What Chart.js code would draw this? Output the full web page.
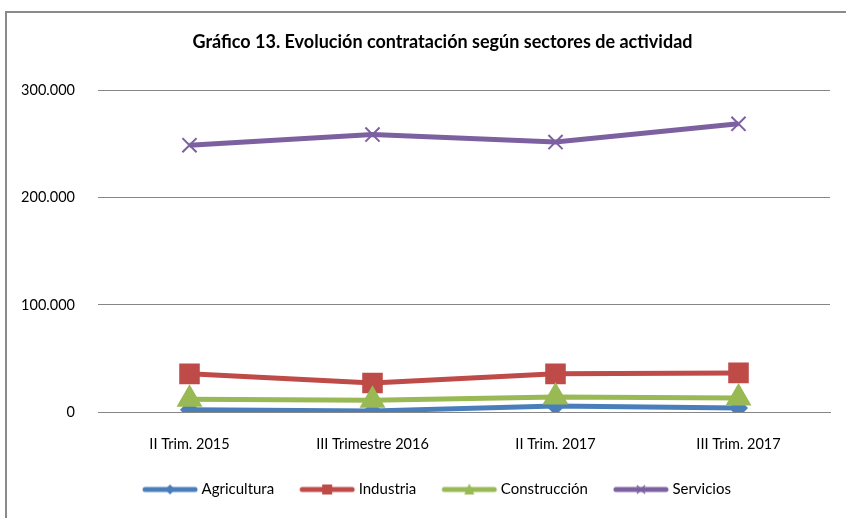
<!DOCTYPE html>
<html>
<head>
<meta charset="utf-8">
<script src="https://cdn.jsdelivr.net/npm/chart.js@4/dist/chart.umd.min.js"></script>
<style>
  html, body { margin: 0; padding: 0; background: #fff; overflow: hidden; }
  #wrap { width: 846px; height: 518px; position: relative; }
</style>
</head>
<body>
<div id="wrap"><canvas id="lineChart" width="846" height="518"></canvas></div>
<script>
// datos
var categories = ['II Trim. 2015', 'III Trimestre 2016', 'II Trim. 2017', 'III Trim. 2017'];
var agricultura = [2000, 1000, 5600, 3700];
var industria = [35600, 27000, 35600, 36500];
var construccion = [12000, 11000, 14000, 13000];
var servicios = [249000, 259000, 252000, 269000];
var yTicks = [0, 100000, 200000, 300000];

var FONT = 'Lato, "Open Sans", sans-serif';

// icono de leyenda: linea + marcador
function legendIcon(color, shape) {
  var c = document.createElement('canvas');
  c.width = 58; c.height = 14;
  var g = c.getContext('2d');
  g.strokeStyle = color; g.fillStyle = color;
  g.lineWidth = 5; g.lineCap = 'round';
  g.beginPath(); g.moveTo(4, 7); g.lineTo(54, 7); g.stroke();
  var cx = 29, cy = 7;
  g.beginPath();
  if (shape == 'diamond') {
    g.moveTo(cx, cy - 5); g.lineTo(cx + 5, cy); g.lineTo(cx, cy + 5); g.lineTo(cx - 5, cy); g.closePath(); g.fill();
  } else if (shape == 'square') {
    g.rect(cx - 5, cy - 5, 10, 10); g.fill();
  } else if (shape == 'triangle') {
    g.moveTo(cx, cy - 6); g.lineTo(cx + 5, cy + 5); g.lineTo(cx - 5, cy + 5); g.closePath(); g.fill();
  } else {
    g.lineWidth = 1.5; g.lineCap = 'butt';
    g.moveTo(cx - 4, cy - 4); g.lineTo(cx + 4, cy + 4);
    g.moveTo(cx + 4, cy - 4); g.lineTo(cx - 4, cy + 4); g.stroke();
  }
  return c;
}

var icons = [
  legendIcon('#4A7EBB', 'diamond'),
  legendIcon('#BE4B48', 'square'),
  legendIcon('#98B954', 'triangle'),
  legendIcon('#7D60A0', 'cross')
];

// marco del grafico (solo se ven borde superior e izquierdo)
var framePlugin = {
  id: 'frame',
  afterLayout: function(chart) {
    // el titulo y la leyenda van centrados en el marco de Excel, no en el canvas
    chart.titleBlock.left += 24; chart.titleBlock.right += 24;
    chart.legend.left += 20; chart.legend.right += 20;
  },
  afterDraw: function(chart) {
    var c = chart.ctx;
    c.save();
    c.strokeStyle = '#8a8a8a';
    c.lineWidth = 2;
    c.beginPath();
    c.moveTo(6, 520); c.lineTo(6, 12); c.lineTo(850, 12);
    c.stroke();
    c.restore();
  }
};

var ctx = document.getElementById('lineChart').getContext('2d');
var myChart = new Chart(ctx, {
  type: 'line',
  data: {
    labels: categories,
    datasets: [{
      label: 'Agricultura',
      data: agricultura,
      borderColor: '#4A7EBB', backgroundColor: '#4A7EBB',
      borderWidth: 5, pointStyle: 'rectRot', pointRadius: 6,
      order: 4
    }, {
      label: 'Industria',
      data: industria,
      borderColor: '#BE4B48', backgroundColor: '#BE4B48',
      borderWidth: 5, pointStyle: 'rect', pointRadius: 11,
      order: 3
    }, {
      label: 'Construcción',
      data: construccion,
      borderColor: '#98B954', backgroundColor: '#98B954',
      borderWidth: 5, pointStyle: 'triangle', pointRadius: 10,
      order: 2
    }, {
      label: 'Servicios',
      data: servicios,
      borderColor: '#7D60A0', backgroundColor: '#7D60A0',
      borderWidth: 5, pointStyle: 'crossRot', pointRadius: 10,
      pointBorderWidth: 2,
      order: 1
    }]
  },
  options: {
    responsive: false,
    animation: false,
    layout: { padding: { left: 0, right: 9, top: 0, bottom: 11 } },
    plugins: {
      title: {
        display: true,
        text: 'Gráfico 13. Evolución contratación según sectores de actividad',
        color: '#000',
        font: { family: FONT, size: 18, weight: 'bold' },
        padding: { top: 31, bottom: 38 }
      },
      legend: {
        position: 'bottom',
        labels: {
          color: '#000',
          font: { family: FONT, size: 15 },
          usePointStyle: true,
          pointStyleWidth: 48,
          boxHeight: 14,
          padding: 29,
          sort: function(a, b) { return a.datasetIndex - b.datasetIndex; },
          generateLabels: function(chart) {
            var items = Chart.defaults.plugins.legend.labels.generateLabels(chart);
            items.forEach(function(it) { it.pointStyle = icons[it.datasetIndex]; });
            return items;
          }
        }
      },
      tooltip: { enabled: false }
    },
    scales: {
      x: {
        offset: true,
        grid: { display: false, drawTicks: false },
        border: { display: true, color: '#868686', width: 1 },
        ticks: { color: '#000', font: { family: FONT, size: 14.5 }, padding: 24, maxRotation: 0 },
        afterFit: function(scale) { scale.height = 41; }
      },
      y: {
        min: 0, max: 300000,
        afterBuildTicks: function(scale) {
          scale.ticks = yTicks.map(function(v) { return { value: v }; });
        },
        grid: { color: '#868686', drawTicks: false },
        border: { display: false },
        ticks: {
          color: '#000',
          font: { family: FONT, size: 14.5 },
          padding: 23,
          callback: function(v) { return v.toLocaleString('de-DE'); }
        },
        afterFit: function(scale) { scale.width = 98; }
      }
    }
  },
  plugins: [framePlugin]
});
</script>
</body>
</html>
